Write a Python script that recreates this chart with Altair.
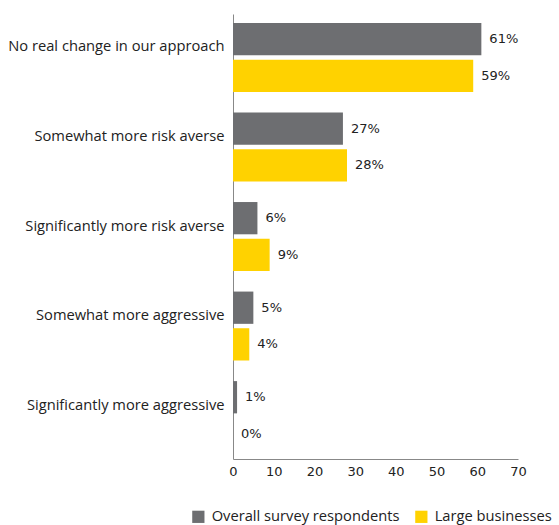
import altair as alt
import pandas as pd

categories = [
    "No real change in our approach",
    "Somewhat more risk averse",
    "Significantly more risk averse",
    "Somewhat more aggressive",
    "Significantly more aggressive",
]
series = ["Overall survey respondents", "Large businesses"]
overall = [61, 27, 6, 5, 1]
large = [59, 28, 9, 4, 0]
colors = ["#6D6E71", "#FFD200"]

rows = []
for c, o, l in zip(categories, overall, large):
    rows.append({"category": c, "series": series[0], "value": o, "label": f"{o}%"})
    rows.append({"category": c, "series": series[1], "value": l, "label": f"{l}%"})
df = pd.DataFrame(rows)

y = alt.Y(
    "category:N",
    sort=categories,
    scale=alt.Scale(paddingInner=0.23, paddingOuter=0.1),
    axis=alt.Axis(
        title=None, ticks=False, labelFont="Open Sans", labelFontSize=14.7,
        labelColor="#222", labelPadding=9, labelLimit=300, labelOffset=-10,
        domainColor="#888", domainWidth=1,
    ),
)
yoff = alt.YOffset("series:N", sort=series, scale=alt.Scale(paddingInner=0.12))
x = alt.X(
    "value:Q",
    scale=alt.Scale(domain=[0, 70]),
    axis=alt.Axis(
        title=None, values=[0, 10, 20, 30, 40, 50, 60, 70], grid=False,
        ticks=False, labelFlush=False, labelFont="DejaVu Sans", labelFontSize=13,
        labelColor="#222", labelPadding=6, domainColor="#888", domainWidth=1,
    ),
)

bars = alt.Chart(df).mark_bar().encode(
    x=x, y=y, yOffset=yoff,
    color=alt.Color(
        "series:N", sort=series,
        scale=alt.Scale(domain=series, range=colors),
        legend=alt.Legend(
            title=None, orient="none", direction="horizontal",
            legendX=-42, legendY=495, symbolType="square", symbolSize=150,
            symbolStrokeWidth=0, symbolOpacity=1, labelOffset=6,
            labelFont="Open Sans", labelFontSize=14.7, labelColor="#222",
            columnPadding=14, labelLimit=300,
        ),
    ),
)

text = alt.Chart(df).mark_text(
    align="left", baseline="middle", dx=8, font="DejaVu Sans", fontSize=13, color="#222"
).encode(x="value:Q", y=alt.Y("category:N", sort=categories), yOffset=yoff, text="label:N")

chart = (
    alt.layer(bars, text)
    .properties(
        width=285, height=445,
        background="white",
        autosize=alt.AutoSizeParams(type="none"),
        padding={"left": 233, "top": 14, "right": 41, "bottom": 66},
    )
    .configure_view(strokeWidth=0, stroke=None)
)

chart.save("out.html", embed_options={"renderer": "svg", "actions": False})
